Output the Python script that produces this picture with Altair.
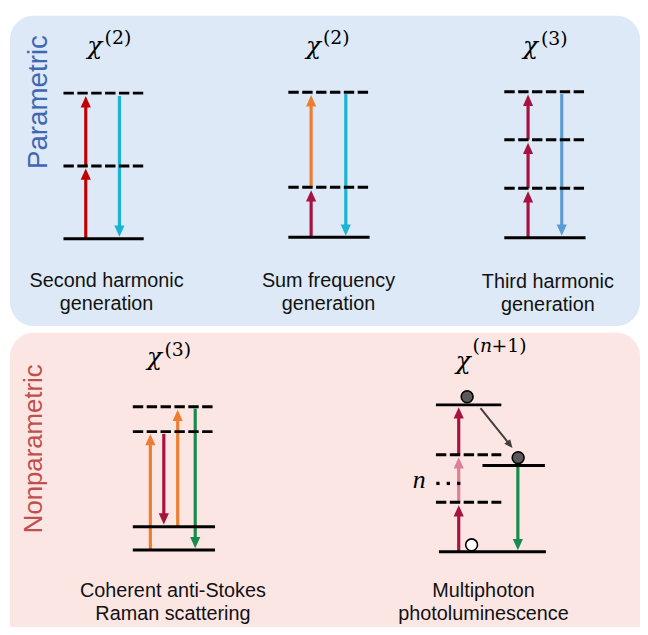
import altair as alt
import pandas as pd
import numpy as np

W, H = 638, 619

# ---------------- data ----------------
# background panels
panel_x1 = [10, 10]
panel_x2 = [646, 646]
panel_y1 = [13, 333]
panel_y2 = [326, 690]
panel_fill = ["#dde9f6", "#fce6e4"]

# side labels
side_text = ["Parametric", "Nonparametric"]
side_x = [47, 42]
side_y = [100, 450]
side_color = ["#4068b2", "#c0504d"]
side_size = [28, 26]

# energy levels (x from, x to, energy, style)
lvl_x1 = [64, 64, 64, 291, 291, 291, 509, 509, 509, 509,
          134, 134, 134, 134, 440, 440, 440, 487, 443]
lvl_x2 = [145, 145, 145, 373, 373, 373, 591, 591, 591, 591,
          217, 217, 217, 217, 506, 506, 506, 550, 551]
lvl_y = [238, 164.5, 91, 236.5, 186, 90, 237, 187, 138, 89.5,
         552.3, 528.7, 432.7, 407.7, 405.7, 456, 504, 467, 554]
lvl_style = ["solid", "dash", "dash", "solid", "dash", "dash", "solid", "dash", "dash", "dash",
             "solid", "solid", "dash", "dash", "solid", "dash", "dash", "solid", "solid"]

# photon arrows
RED, CRIM, ORNG, CYAN, LBLU, GRN, PINK = ("#c00000", "#a8123e", "#ed7d31", "#1ab3d1",
                                          "#5b9bd5", "#178a4e", "#d9809a")
arr_x = [86.5, 86.5, 120.5,
         314, 314, 349,
         533, 533, 533, 567,
         151.7, 165.3, 179.3, 197,
         463, 463, 463, 522.7]
arr_from = [238, 164, 94,
            236.5, 186, 92,
            237, 187, 138, 92,
            552, 435, 528, 409.5,
            554, 504, 456, 467]
arr_to = [167, 94, 236,
          189, 93, 235,
          190, 141, 92.5, 235,
          435, 526.5, 410.5, 550.5,
          507, 458.5, 408, 552.5]
arr_color = [RED, RED, CYAN,
             CRIM, ORNG, CYAN,
             CRIM, CRIM, CRIM, LBLU,
             ORNG, CRIM, ORNG, GRN,
             CRIM, PINK, CRIM, GRN]

# relaxation arrow (MPPL)
rel_x, rel_y, rel_x2, rel_y2 = [485], [409], [517.3], [449.3]

# electrons
circ_x = [471.5, 523, 476]
circ_y = [397.5, 459, 547]
circ_fill = ["#595959", "#595959", "#ffffff"]

# "n ..." annotation
n_x, n_y = [423], [490]
dot_x = [442, 452.5, 463]
dot_y = [485, 485, 485]

# susceptibility titles
chi_x = [95.5, 316.5, 535.5, 156, 467.5]
chi_y = [51, 51, 52, 365.5, 369]
sup_x = [105.5, 326, 546, 166]
sup_y = [41.5, 41.5, 42.5, 356.5]
sup_text = ["(2)", "(2)", "(3)", "(3)"]
# superscript (n+1), written in pieces so that n is italic
np1_x0, np1_y = 477, 352
np1_text = ["(", "n", "+1)"]
np1_style = ["normal", "italic", "normal"]
np1_em = [0.39, 0.62, 1.80]          # advance widths in em
SUP_SIZE = 19

# process names
lab_x = [107.5, 107.5, 331.5, 331.5, 553, 553, 174.5, 174.5, 488, 488]
lab_y = [287, 310, 287, 310, 288, 311, 600, 623, 600, 623]
lab_text = ["Second harmonic", "generation", "Sum frequency", "generation",
            "Third harmonic", "generation", "Coherent anti-Stokes", "Raman scattering",
            "Multiphoton", "photoluminescence"]

# ---------------- tables ----------------
panels = pd.DataFrame({"x": panel_x1, "x2": panel_x2, "y": panel_y1, "y2": panel_y2, "fill": panel_fill})
sides = pd.DataFrame({"x": side_x, "y": side_y, "t": side_text, "c": side_color, "s": side_size})
levels = pd.DataFrame({"x": lvl_x1, "x2": lvl_x2, "y": lvl_y, "style": lvl_style})

UP = "M0,0L0.9,2L-0.9,2Z"
DOWN = "M0,0L0.9,-2L-0.9,-2Z"
arrows = pd.DataFrame({"x": arr_x, "y": arr_from, "tip": arr_to, "c": arr_color})
d = np.sign(arrows["tip"] - arrows["y"])
arrows["shaft_end"] = arrows["tip"] - d * 6
arrows["head"] = np.where(d > 0, DOWN, UP)

rel = pd.DataFrame({"x": rel_x, "y": rel_y, "x2": rel_x2, "y2": rel_y2})
dx = rel["x2"] - rel["x"]
dy = rel["y2"] - rel["y"]
ln = np.hypot(dx, dy)
rel["sx2"] = rel["x2"] - dx / ln * 4
rel["sy2"] = rel["y2"] - dy / ln * 4
rel["ang"] = np.degrees(np.arctan2(dx, -dy))
rel["head"] = UP

circles = pd.DataFrame({"x": circ_x, "y": circ_y, "fill": circ_fill})
ntext = pd.DataFrame({"x": n_x, "y": n_y, "t": ["n"]})
dots = pd.DataFrame({"x": dot_x, "y": dot_y})
chis = pd.DataFrame({"x": chi_x, "y": chi_y, "t": ["χ"] * len(chi_x)})
sups = pd.DataFrame({"x": sup_x, "y": sup_y, "t": sup_text})
np1 = pd.DataFrame({"t": np1_text, "st": np1_style})
np1["x"] = np1_x0 + np.concatenate([[0], np.cumsum(np1_em)[:-1]]) * SUP_SIZE
np1["y"] = np1_y
labels = pd.DataFrame({"x": lab_x, "y": lab_y, "t": lab_text})

xs = alt.Scale(domain=[8, 646], nice=False, zero=False)
ys = alt.Scale(domain=[8, 627], nice=False, zero=False, reverse=True)


def X(f="x"):
    return alt.X(f"{f}:Q", scale=xs, axis=None)


def Y(f="y"):
    return alt.Y(f"{f}:Q", scale=ys, axis=None)


bg = alt.Chart(panels).mark_rect(cornerRadius=24).encode(
    x=X(), x2="x2", y=Y(), y2="y2", fill=alt.Fill("fill:N", scale=None))

side = alt.Chart(sides).mark_text(angle=270, align="center", baseline="alphabetic",
                                  font="Liberation Sans").encode(
    x=X(), y=Y(), text="t:N", color=alt.Color("c:N", scale=None),
    size=alt.Size("s:Q", scale=None))

shafts = alt.Chart(arrows).mark_rule(strokeWidth=3.2, strokeCap="butt").encode(
    x=X(), y=Y(), y2="shaft_end", color=alt.Color("c:N", scale=None))
heads = alt.Chart(arrows).mark_point(filled=True, opacity=1, size=130, strokeWidth=0).encode(
    x=X(), y=Y("tip"), shape=alt.Shape("head:N", scale=None), color=alt.Color("c:N", scale=None))

rel_shaft = alt.Chart(rel).mark_rule(strokeWidth=2, color="#404040").encode(
    x=X(), y=Y(), x2="sx2", y2="sy2")
rel_head = alt.Chart(rel).mark_point(filled=True, opacity=1, size=72, strokeWidth=0,
                                     color="#404040").encode(
    x=X("x2"), y=Y("y2"), shape=alt.Shape("head:N", scale=None), angle=alt.Angle("ang:Q", scale=None))

solid = alt.Chart(levels).transform_filter("datum.style == 'solid'").mark_rule(
    strokeWidth=3, color="black", strokeCap="butt").encode(x=X(), x2="x2", y=Y())
dashed = alt.Chart(levels).transform_filter("datum.style == 'dash'").mark_rule(
    strokeWidth=3, color="black", strokeDash=[10.5, 3.5], strokeCap="butt").encode(x=X(), x2="x2", y=Y())

circ = alt.Chart(circles).mark_point(shape="circle", filled=True, opacity=1, size=144,
                                     stroke="black", strokeWidth=1.6).encode(
    x=X(), y=Y(), fill=alt.Fill("fill:N", scale=None))

nmark = alt.Chart(ntext).mark_text(font="Liberation Serif", fontStyle="italic", fontSize=26,
                                   align="center", baseline="alphabetic", color="black").encode(
    x=X(), y=Y(), text="t:N")
dotm = alt.Chart(dots).mark_point(shape="square", filled=True, opacity=1, size=11,
                                  color="black").encode(x=X(), y=Y())

chim = alt.Chart(chis).mark_text(font="DejaVu Serif", fontStyle="italic", fontSize=25,
                                 align="center", baseline="alphabetic", color="black").encode(
    x=X(), y=Y(), text="t:N")
supm = alt.Chart(sups).mark_text(font="DejaVu Serif", fontSize=SUP_SIZE,
                                 align="left", baseline="alphabetic", color="black").encode(
    x=X(), y=Y(), text="t:N")
np1_up = alt.Chart(np1).transform_filter("datum.st == 'normal'").mark_text(
    font="DejaVu Serif", fontSize=SUP_SIZE, align="left", baseline="alphabetic",
    color="black").encode(x=X(), y=Y(), text="t:N")
np1_it = alt.Chart(np1).transform_filter("datum.st == 'italic'").mark_text(
    font="DejaVu Serif", fontStyle="italic", fontSize=SUP_SIZE, align="left",
    baseline="alphabetic", color="black").encode(x=X(), y=Y(), text="t:N")

labm = alt.Chart(labels).mark_text(font="Liberation Sans", fontSize=20,
                                   align="center", baseline="alphabetic", color="#111111").encode(
    x=X(), y=Y(), text="t:N")

chart = alt.layer(
    bg, side, shafts, heads, rel_shaft, rel_head, solid, dashed, circ,
    nmark, dotm, chim, supm, np1_up, np1_it, labm
).properties(
    width=W, height=H, padding=0, autosize=alt.AutoSizeParams(type="none"), background="white"
).configure_view(strokeWidth=0)

chart.save("out.html", embed_options={"renderer": "svg", "actions": False})
